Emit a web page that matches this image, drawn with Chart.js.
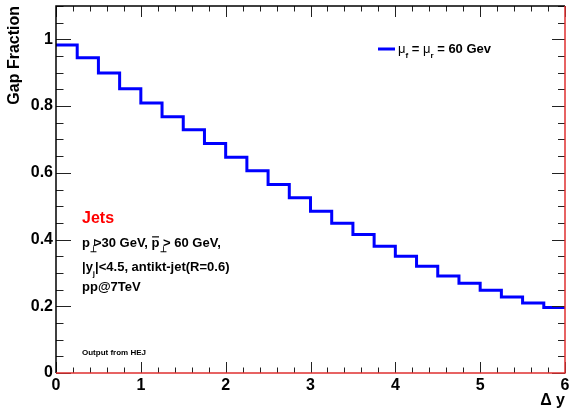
<!DOCTYPE html>
<html>
<head>
<meta charset="utf-8">
<script src="https://cdn.jsdelivr.net/npm/chart.js@4.4.1/dist/chart.umd.min.js"></script>
<style>
html, body { margin: 0; padding: 0; background: #fff; }
canvas { display: block; }
</style>
</head>
<body>
<canvas id="gapChart" width="570" height="411"></canvas>
<script>
// bin edges in delta y (24 bins of 0.25) and the gap fraction in each bin
let binEdges = [0, 0.25, 0.5, 0.75, 1, 1.25, 1.5, 1.75, 2, 2.25, 2.5, 2.75, 3,
                3.25, 3.5, 3.75, 4, 4.25, 4.5, 4.75, 5, 5.25, 5.5, 5.75, 6];
let gapFraction = [0.983, 0.945, 0.899, 0.852, 0.809, 0.768, 0.729, 0.688,
                   0.647, 0.606, 0.565, 0.525, 0.485, 0.449, 0.415, 0.380,
                   0.350, 0.320, 0.291, 0.269, 0.248, 0.228, 0.210, 0.196];
let xTickLabels = ["0", "1", "2", "3", "4", "5", "6"];
let yTickLabels = ["0", "0.2", "0.4", "0.6", "0.8", "1"];
let seriesName = "mu_f = mu_r = 60 Gev";

const FONT = "'Liberation Sans', Arial, Helvetica, sans-serif";
const BLUE = "#0000ff";

// step histogram points: each bin value starts at its low edge, last one repeated at 6
let points = [];
for(let i = 0; i < binEdges.length; i++) {
    let v = gapFraction[Math.min(i, gapFraction.length - 1)];
    points.push({x: binEdges[i], y: v});
}

// draw a run of text pieces (normal, subscript, superscript) from x on a baseline
function drawRich(ctx, x, y, pieces, size) {
    for(let p of pieces) {
        let s = p.small ? Math.round(size * 0.62) : size;
        let weight = p.normal ? "" : "bold ";
        ctx.font = weight + s + "px " + FONT;
        let dy = 0;
        if(p.sub) dy = size * 0.35;
        if(p.sup) dy = -size * 0.25;
        ctx.fillText(p.t, x, y + dy);
        let w = ctx.measureText(p.t).width;
        if(p.bar) {
            ctx.save();
            ctx.lineWidth = 1.2;
            ctx.strokeStyle = ctx.fillStyle;
            ctx.beginPath();
            ctx.moveTo(x + 0.5, y - size * 0.78);
            ctx.lineTo(x + w - 0.5, y - size * 0.78);
            ctx.stroke();
            ctx.restore();
        }
        x += p.adv !== undefined ? w * p.adv : w;
    }
    return x;
}

// keep the plot frame exactly where the original has it
function noPadding(scale) {
    scale.paddingTop = 0;
    scale.paddingBottom = 0;
    scale.paddingLeft = 0;
    scale.paddingRight = 0;
}

const decorations = {
    id: "decorations",
    afterDraw(chart) {
        const ctx = chart.ctx;
        const area = chart.chartArea;
        const xs = chart.scales.x;
        const ys = chart.scales.y;
        ctx.save();

        // inward tick marks like the original frame
        ctx.strokeStyle = "#222";
        ctx.lineWidth = 1;
        ctx.beginPath();
        for(let k = 0; k <= 30; k++) {
            let v = k * 0.2;
            let px = Math.round(xs.getPixelForValue(v)) + 0.5;
            let len = (k % 5 == 0) ? 11 : 5.5;
            ctx.moveTo(px, area.bottom); ctx.lineTo(px, area.bottom - len);
            ctx.moveTo(px, area.top); ctx.lineTo(px, area.top + len);
        }
        for(let k = 0; k <= 22; k++) {
            let v = k * 0.05;
            let py = Math.round(ys.getPixelForValue(v)) + 0.5;
            let major = (k % 4 == 0);
            ctx.moveTo(area.left, py); ctx.lineTo(area.left + (major ? 15 : 7.5), py);
            ctx.moveTo(area.right, py); ctx.lineTo(area.right - (major ? 13 : 7), py);
        }
        ctx.stroke();

        // frame: left/top black, bottom/right red
        ctx.lineWidth = 1.5;
        ctx.strokeStyle = "#000";
        ctx.beginPath();
        ctx.moveTo(area.left, area.bottom); ctx.lineTo(area.left, area.top); ctx.lineTo(area.right, area.top);
        ctx.stroke();
        ctx.strokeStyle = "#e03030";
        ctx.beginPath();
        ctx.moveTo(area.left, area.bottom); ctx.lineTo(area.right, area.bottom); ctx.lineTo(area.right, area.top);
        ctx.stroke();

        // legend
        ctx.strokeStyle = BLUE;
        ctx.lineWidth = 3;
        ctx.beginPath();
        ctx.moveTo(378, 49); ctx.lineTo(395, 49);
        ctx.stroke();
        ctx.fillStyle = "#000";
        ctx.textBaseline = "alphabetic";
        ctx.textAlign = "left";
        drawRich(ctx, 398, 53, [
            {t: "\u03bc", normal: true},
            {t: "f", small: true, sub: true},
            {t: " = "},
            {t: "\u03bc", normal: true},
            {t: "r", small: true, sub: true},
            {t: " = 60 Gev"}
        ], 13);

        // annotation block
        ctx.fillStyle = "#ff0000";
        ctx.font = "bold 16px " + FONT;
        ctx.fillText("Jets", 82, 223);
        ctx.fillStyle = "#000";
        drawRich(ctx, 82, 247, [
            {t: "p"},
            {t: "\u22a5", small: true, sub: true, adv: 0.5},
            {t: "j", small: true, sup: true, adv: 0.2},
            {t: ">30 GeV, "},
            {t: "p", bar: true},
            {t: "\u22a5", small: true, sub: true, adv: 0.5},
            {t: "> 60 GeV,"}
        ], 13);
        drawRich(ctx, 82, 271, [
            {t: "|y"},
            {t: "j", small: true, sub: true},
            {t: "|<4.5, antikt-jet(R=0.6)"}
        ], 13);
        drawRich(ctx, 82, 291, [{t: "pp@7TeV"}], 13);
        ctx.font = "bold 8px " + FONT;
        ctx.fillText("Output from HEJ", 82, 355);

        ctx.restore();
    }
};

const config = {
    type: "line",
    data: {
        datasets: [{
            label: seriesName,
            data: points,
            borderColor: BLUE,
            backgroundColor: BLUE,
            borderWidth: 3,
            stepped: true,
            pointRadius: 0,
            fill: false
        }]
    },
    options: {
        responsive: false,
        animation: false,
        layout: { padding: { top: 6, right: 5, left: 0, bottom: 0 } },
        plugins: {
            legend: { display: false },
            tooltip: { enabled: false }
        },
        scales: {
            x: {
                type: "linear",
                min: 0,
                max: 6,
                grid: { display: false, drawTicks: false },
                border: { display: false },
                afterBuildTicks: function(scale) {
                    scale.ticks = xTickLabels.map(function(t) { return {value: Number(t)}; });
                },
                afterFit: function(scale) { scale.height = 38; noPadding(scale); },
                ticks: {
                    padding: 3,
                    color: "#000",
                    font: { family: FONT, size: 16, weight: "bold" },
                    maxRotation: 0,
                    callback: function(value, index) { return xTickLabels[index]; }
                },
                title: {
                    display: true,
                    text: "\u0394 y",
                    align: "end",
                    color: "#000",
                    padding: { top: 0, bottom: 1 },
                    font: { family: FONT, size: 16, weight: "bold" }
                }
            },
            y: {
                type: "linear",
                min: 0,
                max: 1.1,
                grid: { display: false, drawTicks: false },
                border: { display: false },
                afterBuildTicks: function(scale) {
                    scale.ticks = yTickLabels.map(function(t) { return {value: Number(t)}; });
                },
                afterFit: function(scale) { scale.width = 56; noPadding(scale); },
                ticks: {
                    padding: 3,
                    color: "#000",
                    font: { family: FONT, size: 16, weight: "bold" },
                    callback: function(value, index) { return yTickLabels[index]; }
                },
                title: {
                    display: true,
                    text: "Gap Fraction",
                    align: "end",
                    color: "#000",
                    padding: { top: 5, bottom: 0 },
                    font: { family: FONT, size: 16, weight: "bold" }
                }
            }
        }
    },
    plugins: [decorations]
};

const chart = new Chart(document.getElementById("gapChart"), config);
</script>
</body>
</html>
